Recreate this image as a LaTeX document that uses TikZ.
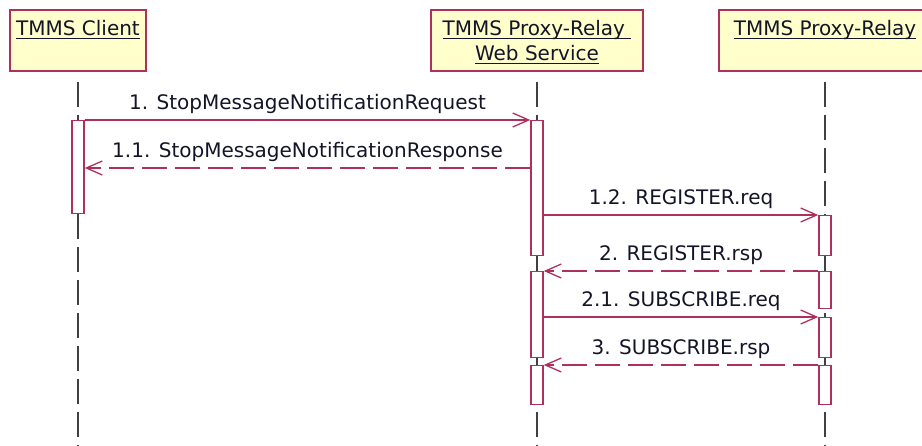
\documentclass[tikz,border=0pt]{standalone}
\usepackage{amsmath}
\usepackage{fontspec}
\setmainfont{DejaVu Sans}
\usetikzlibrary{arrows.meta,positioning,calc}
\definecolor{cA}{HTML}{B0305C}
\definecolor{cB}{HTML}{FFFFCC}
\definecolor{cL}{HTML}{404040}
\definecolor{cT}{HTML}{141428}
\newcommand\uln[1]{\underline{\smash[b]{#1}}}
\tikzset{
  head/.style={draw=cA,line width=1.6pt,fill=cB,minimum height=61pt,
              inner sep=0pt,anchor=north},
  headtxt/.style={font=\fontsize{20}{25}\selectfont,text=cT,align=center,
              inner sep=0pt,anchor=north},
  life/.style={cL,line width=1.4pt,dash pattern=on 25pt off 8pt},
  act/.style={draw=cA,line width=1.4pt,fill=white,minimum width=12pt,
              inner sep=0pt,anchor=north},
  msg/.style={cA,line width=1.3pt,
              -{Straight Barb[length=16pt,width=14pt,line width=1.3pt]}},
  rsp/.style={msg,dash pattern=on 25pt off 8pt},
  lbl/.style={font=\fontsize{20}{24}\selectfont,text=cT,inner sep=0pt,
              anchor=base,yshift=11pt},
}
\begin{document}
\begin{tikzpicture}[x=1pt,y=-1pt]
  \useasboundingbox (0,0) rectangle (922,445);
  % objects
  \node[head,minimum width=136pt] (cl) at (78,9){};
  \node[head,minimum width=212pt] (ws) at (537,9){};
  \node[head,minimum width=212pt] (pr) at (825,9){};
  \node[headtxt] (clt) at ([yshift=-10.8pt]cl.north){\uln{TMMS Client}};
  \node[headtxt] (wst) at ([yshift=-10.8pt]ws.north)
       {\uln{TMMS Proxy-Relay }\\\uln{Web Service}};
  \node[headtxt] (prt) at ([yshift=-10.8pt]pr.north){\uln{TMMS Proxy-Relay}};
  % lifelines
  \coordinate (bot) at (0,445);
  \foreach \n in {cl,ws,pr}
     \draw[life] ([yshift=-10pt]\n.south) -- (\n.south |- bot);
  % activations
  \foreach \n/\x/\t/\b in {ca/78/120/213, wa1/537/120/255, wa2/537/271/357,
     wa3/537/365/404, ra1/825/215/255, ra2/825/271/308, ra3/825/317/357,
     ra4/825/365/404}
     \node[act,minimum height={(\b-\t)*1pt}] (\n) at (\x,\t){};
  % messages
  \coordinate (y11) at (0,168);
  \draw[msg] (ca.north east) -- node[lbl]{1. StopMessageNotificationRequest}
     (wa1.north west);
  \draw[rsp] (wa1.west |- y11) -- node[lbl]{1.1. StopMessageNotificationResponse}
     (ca.east |- y11);
  \draw[msg] (wa1.east |- ra1.north) -- node[lbl]{1.2. REGISTER.req}
     (ra1.north west);
  \draw[rsp] (ra2.north west) -- node[lbl]{2. REGISTER.rsp} (wa2.north east);
  \draw[msg] (wa2.east |- ra3.north) -- node[lbl]{2.1. SUBSCRIBE.req}
     (ra3.north west);
  \draw[rsp] (ra4.north west) -- node[lbl]{3. SUBSCRIBE.rsp} (wa3.north east);
\end{tikzpicture}
\end{document}
